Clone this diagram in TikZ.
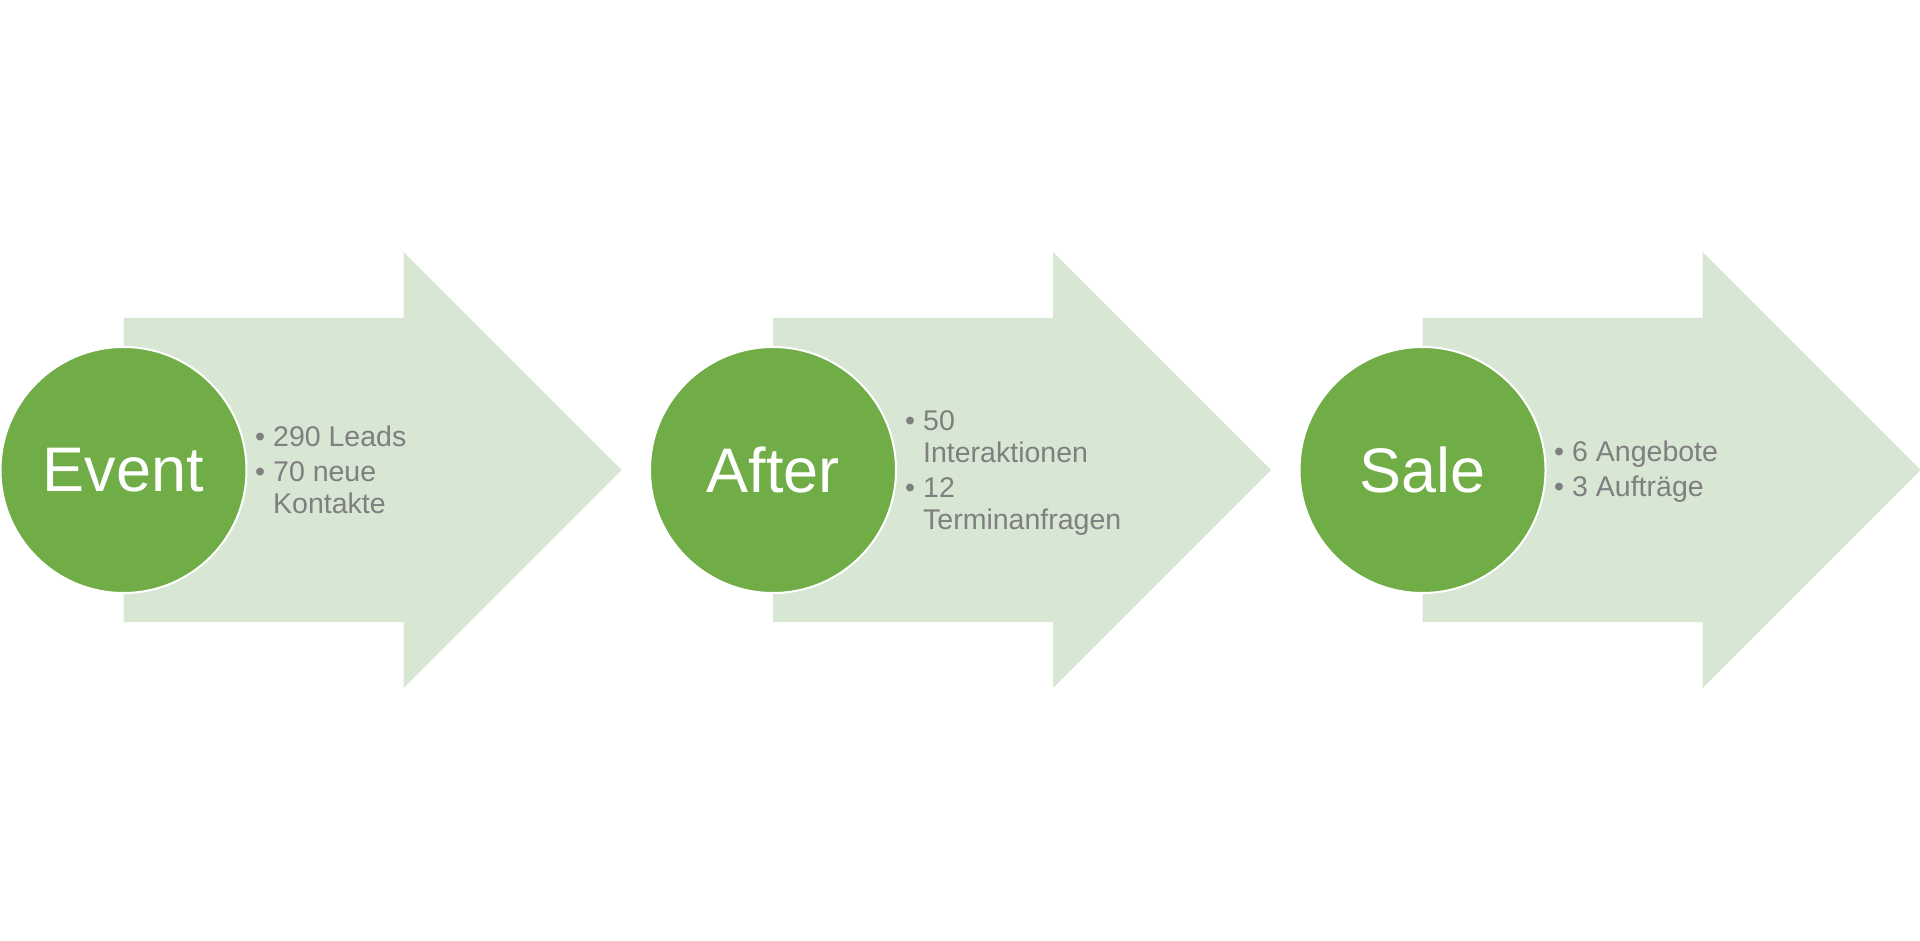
\documentclass[tikz,border=0pt]{standalone}
\usepackage{fontspec}
\setmainfont{Liberation Sans}
\definecolor{circ}{HTML}{70AD47}
\definecolor{arr}{HTML}{D8E6D4}
\definecolor{txt}{HTML}{7F7F7F}
\begin{document}
\begin{tikzpicture}[x=1pt,y=-1pt,
  stage/.style={circle,fill=circ,draw=white,line width=2pt,minimum size=246pt,inner sep=0pt,
    text=white,font=\fontsize{63}{72}\selectfont},
  item/.style={text=txt,font=\fontsize{28.5}{32}\selectfont,anchor=base west,inner sep=0pt},
  bigarrow/.style={fill=arr}]
\useasboundingbox (0,0) rectangle (1920,941);
\foreach \x in {123.5,773,1422.5}
  \fill[bigarrow] (\x,318) -- (\x+280,318) -- (\x+280,252) -- (\x+498,470)
     -- (\x+280,688) -- (\x+280,622) -- (\x,622) -- cycle;
\newcommand\bul{\leavevmode\llap{•\hspace{8pt}}}
% Stage 1
\node[stage] (event) at (123.5,470) {Event};
\node[item] (e1) at (273,446) {\bul 290 Leads};
\node[item] (e2) at (273,481.7) {\parbox[t]{300pt}{\bul 70 neue\\Kontakte}};
% Stage 2
\node[stage] (after) at (773,470) {After};
\node[item] (a1) at (923,430) {\parbox[t]{300pt}{\bul 50\\Interaktionen}};
\node[item] (a2) at (923,497.7) {\parbox[t]{300pt}{\bul 12\\Terminanfragen}};
% Stage 3
\node[stage] (sale) at (1422.5,470) {Sale};
\node[item] (s1) at (1572,461) {\bul 6 Angebote};
\node[item] (s2) at (1572,496.7) {\bul 3 Aufträge};
\end{tikzpicture}
\end{document}
